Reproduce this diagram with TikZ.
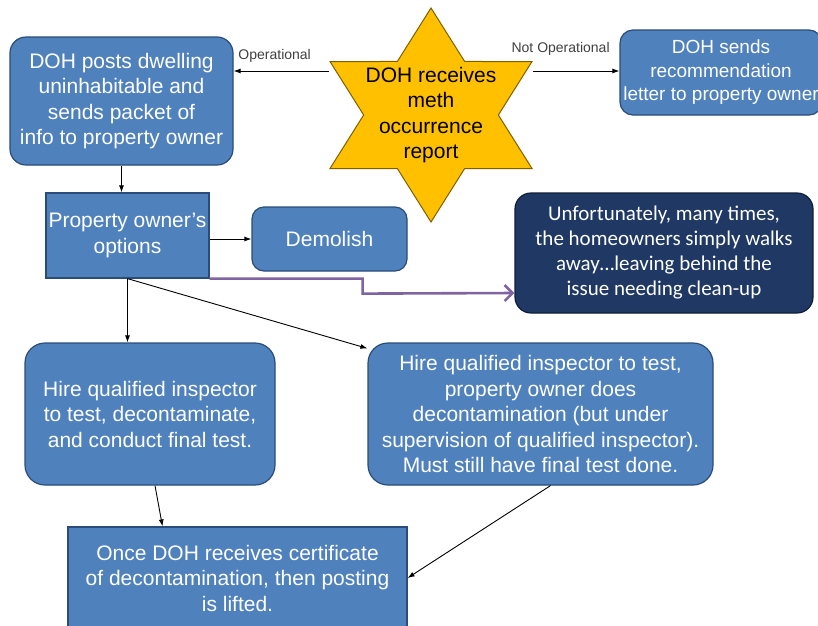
\documentclass[tikz,border=0pt]{standalone}
\usepackage{fontspec}
\setmainfont{Liberation Sans}
\newfontfamily\calibrifont{Carlito}
\usetikzlibrary{calc,positioning,arrows.meta,shapes.geometric}
\definecolor{boxblue}{HTML}{4F81BD}
\definecolor{boxedge}{HTML}{2B4C78}
\definecolor{navy}{HTML}{1F3864}
\definecolor{navyedge}{HTML}{0F1F3A}
\definecolor{stargold}{HTML}{FFC000}
\definecolor{staredge}{HTML}{7F6000}
\definecolor{walkpurple}{HTML}{8064A2}

\begin{document}
\begin{tikzpicture}[
  x=1pt,y=-1pt,
  blue box/.style={rectangle,fill=boxblue,draw=boxedge,line width=1.2pt,text=white,align=center,inner sep=0pt,font=\fontsize{21}{25.5}\selectfont},
  round box/.style={blue box,rounded corners=16pt},
  arrow/.style={-{Latex[length=7pt,width=5pt]},line width=0.9pt},
  choice/.style={font=\fontsize{14}{16}\selectfont,text=black!75,inner sep=1pt},
  ]

  \useasboundingbox (0,0) rectangle (818,625);

  % the report star in the middle of the top row
  \begin{scope}[shift={(431,115)}]
    \node (doh_star) [star,star points=6,star point ratio=1.732,minimum size=214pt,inner sep=0pt,fill=stargold,draw=staredge,line width=1pt,xscale=1.09,transform shape] at (0,0) {};
  \end{scope}
  \node (doh_text) [align=center,inner sep=0pt,font=\fontsize{21}{25.5}\selectfont] at (doh_star.center) {DOH receives\\meth\\occurrence\\report};

  \node (post_box) [round box,minimum width=223pt,minimum height=128pt] at (121.5,101) {DOH posts dwelling\\uninhabitable and\\sends packet of\\info to property owner};
  \node (rec_box) [round box,rounded corners=13pt,minimum width=202pt,minimum height=85pt,font=\fontsize{19}{23.5}\selectfont] at (721,72.5) {DOH sends\\recommendation\\letter to property owner};

  \node (options_box) [blue box,minimum width=163pt,minimum height=85pt] at (127.5,235.5) {Property owner's\\options};
  \node (demolish_box) [round box,rounded corners=12pt,minimum width=155pt,minimum height=64pt] at (329.5,239) {Demolish};
  \node (walk_box) [round box,fill=navy,draw=navyedge,minimum width=298pt,minimum height=120pt,font=\calibrifont\fontsize{21}{25}\selectfont] at (664,253) {Unfortunately, many times,\\the homeowners simply walks\\away\dots leaving behind the\\issue needing clean-up};

  \node (hire_box) [round box,rounded corners=20pt,minimum width=250pt,minimum height=142pt] at (150,414) {Hire qualified inspector\\to test, decontaminate,\\and conduct final test.};
  \node (owner_box) [round box,rounded corners=20pt,minimum width=345pt,minimum height=142pt] at (540.5,414) {Hire qualified inspector to test,\\property owner does\\decontamination (but under\\supervision of qualified inspector).\\Must still have final test done.};

  \node (lift_box) [blue box,minimum width=339pt,minimum height=102pt] at (237.5,578) {Once DOH receives certificate\\of decontamination, then posting\\is lifted.};

  % connectors
  \draw[arrow] ([yshift=-10pt]doh_star.outer point 2) -- ([yshift=-10pt]doh_star.outer point 2 -| post_box.east) node[choice,pos=0.57,above=7pt] {Operational};
  \draw[arrow] ([yshift=-10pt]doh_star.outer point 6) -- ([yshift=-10pt]doh_star.outer point 6 -| rec_box.west) node[choice,pos=0.32,above=14pt] {Not Operational};

  \draw[arrow] (post_box.south) -- (post_box.south |- options_box.north);
  \draw[arrow] (options_box.east |- demolish_box.west) -- (demolish_box.west);
  \draw[walkpurple,line width=2.6pt,-{Straight Barb[length=8pt,width=16pt]}] (options_box.south east) -- ++(153,0) -- ++(0,15) -- ([yshift=-40pt]walk_box.west);

  \draw[arrow] (options_box.south) -- (options_box.south |- hire_box.north);
  \draw[arrow] (options_box.south) -- ([yshift=-6pt]owner_box.north west);

  \draw[arrow] ([xshift=5pt]hire_box.south) -- ([xshift=-75pt]lift_box.north);
  \draw[arrow] ([xshift=10pt]owner_box.south) -- (lift_box.east);

\end{tikzpicture}
\end{document}
